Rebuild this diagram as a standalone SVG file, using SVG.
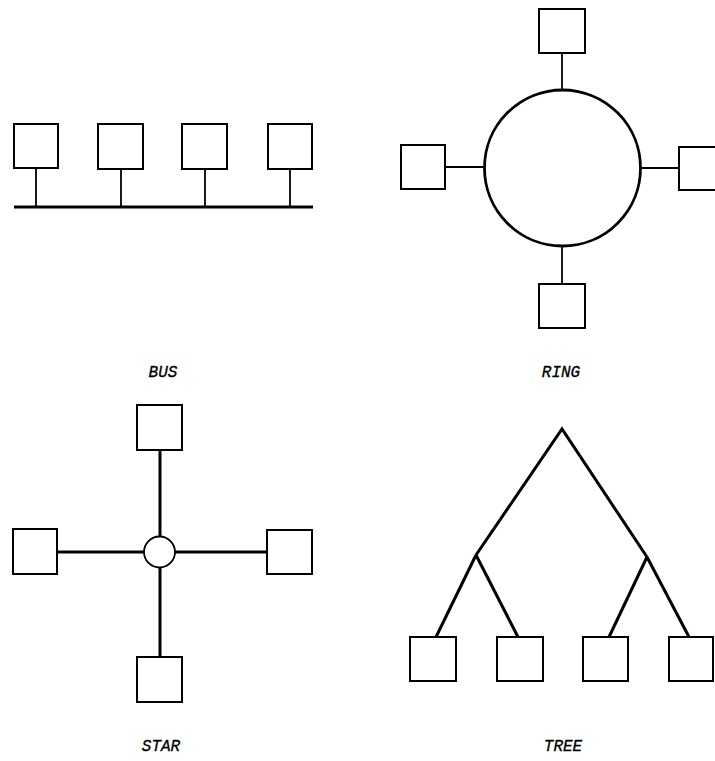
<svg xmlns="http://www.w3.org/2000/svg" width="715" height="761" viewBox="0 0 715 761">
<style>
.box{fill:#fff;stroke:#000;stroke-width:2}
.thin{stroke:#000;stroke-width:1.8;fill:none}
.thick{stroke:#000;stroke-width:3;fill:none}
.lbl{font-family:"Liberation Mono","Courier New",monospace;font-style:italic;font-size:16px;fill:#000;stroke:#000;stroke-width:0.3;text-anchor:middle}
</style>
<rect width="715" height="761" fill="#fff"/>
<g id="connectors">
<line class="thick" x1="14" y1="207" x2="313" y2="207"/>
<line class="thin" x1="36" y1="168" x2="36" y2="207"/>
<line class="thin" x1="121" y1="168" x2="121" y2="207"/>
<line class="thin" x1="205" y1="168" x2="205" y2="207"/>
<line class="thin" x1="290" y1="168" x2="290" y2="207"/>
<line class="thin" x1="562" y1="53" x2="562" y2="90"/>
<line class="thin" x1="445" y1="167" x2="484" y2="167"/>
<line class="thin" x1="641" y1="168" x2="679" y2="168"/>
<line class="thin" x1="562" y1="246" x2="562" y2="284"/>
<line class="thick" x1="160" y1="450" x2="160" y2="537"/>
<line class="thick" x1="160" y1="567" x2="160" y2="657"/>
<line class="thick" x1="57" y1="552" x2="144" y2="552"/>
<line class="thick" x1="175" y1="552" x2="267" y2="552"/>
<polyline class="thick" points="476,555 562,429 647,557"/>
<line class="thick" x1="476" y1="555" x2="436" y2="637"/>
<line class="thick" x1="476" y1="555" x2="518" y2="637"/>
<line class="thick" x1="647" y1="557" x2="609" y2="637"/>
<line class="thick" x1="647" y1="557" x2="689" y2="637"/>
</g>
<g id="bus-node1"><rect class="box" x="14" y="124" width="44" height="44"/></g>
<g id="bus-node2"><rect class="box" x="98" y="124" width="45" height="45"/></g>
<g id="bus-node3"><rect class="box" x="182" y="124" width="45" height="45"/></g>
<g id="bus-node4"><rect class="box" x="268" y="124" width="44" height="45"/></g>
<g id="ring"><circle cx="562.5" cy="168" r="78" fill="#fff" stroke="#000" stroke-width="2.8"/></g>
<g id="ring-node-top"><rect class="box" x="539" y="9" width="46" height="44"/></g>
<g id="ring-node-left"><rect class="box" x="401" y="145" width="44" height="44"/></g>
<g id="ring-node-right"><rect class="box" x="679" y="147" width="44" height="43"/></g>
<g id="ring-node-bottom"><rect class="box" x="539" y="284" width="46" height="44"/></g>
<g id="star-hub"><circle cx="159.5" cy="552" r="15.5" fill="#fff" stroke="#000" stroke-width="1.8"/></g>
<g id="star-node-top"><rect class="box" x="137" y="405" width="45" height="45"/></g>
<g id="star-node-left"><rect class="box" x="13" y="529" width="44" height="45"/></g>
<g id="star-node-right"><rect class="box" x="267" y="530" width="45" height="44"/></g>
<g id="star-node-bottom"><rect class="box" x="137" y="657" width="45" height="45"/></g>
<g id="tree-node1"><rect class="box" x="410" y="637" width="46" height="44"/></g>
<g id="tree-node2"><rect class="box" x="497" y="637" width="46" height="44"/></g>
<g id="tree-node3"><rect class="box" x="583" y="637" width="45" height="44"/></g>
<g id="tree-node4"><rect class="box" x="669" y="637" width="44" height="44"/></g>
<g id="labels">
<text class="lbl" x="163" y="377">BUS</text>
<text class="lbl" x="561" y="377">RING</text>
<text class="lbl" x="161" y="751">STAR</text>
<text class="lbl" x="563" y="751">TREE</text>
</g>
</svg>
